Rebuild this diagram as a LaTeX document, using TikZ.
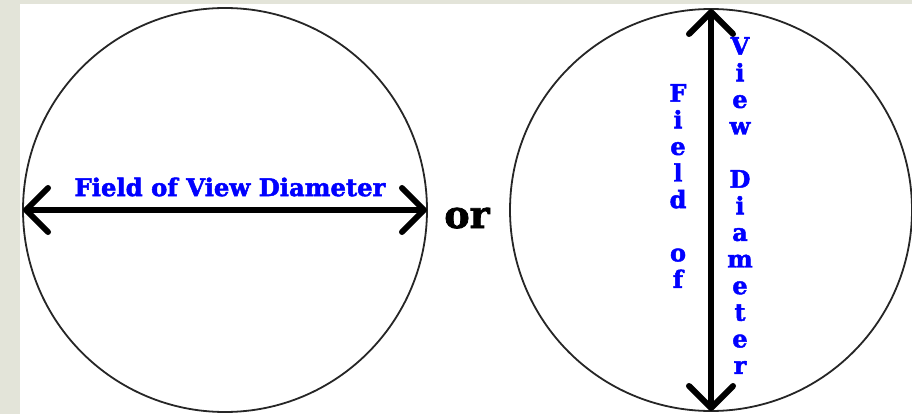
\documentclass[tikz,border=0pt]{standalone}
\usepackage{fontspec}
\setmainfont{DejaVu Serif}
\newfontfamily\heavyserif[FakeBold=2]{DejaVu Serif Bold}
\usetikzlibrary{arrows.meta, positioning}
\definecolor{stripGray}{RGB}{227,228,217}
\definecolor{labelBlue}{RGB}{0,0,255}
\tikzset{
    fovCircle/.style={
        circle, draw=black!85, line width=1.8pt, minimum size=404pt, inner sep=0pt, outer sep=0pt
    },
    fovArrow/.style={
        {Straight Barb[length=22pt, width=44pt, round]}-{Straight Barb[length=22pt, width=44pt, round]}, line width=6pt, draw=black
    },
    fovLabel/.style={
        text=labelBlue, font=\heavyserif\fontsize{24.3}{28}\selectfont, inner sep=0pt
    },
    fovColumn/.style={
        text=labelBlue, font=\heavyserif\fontsize{24}{26.6}\selectfont, align=center, inner sep=0pt, anchor=north
    },
    orLabel/.style={
        text=black, font=\heavyserif\fontsize{38}{42}\selectfont, inner sep=0pt, anchor=base
    }
}
\begin{document}
\begin{tikzpicture}[x=1pt, y=-1pt]
    % ── PAGE AND MARGIN STRIP
    \fill[stripGray] (0, 0) rectangle (912, 414);
    \fill[white] (20, 4) rectangle (912, 414);
    \useasboundingbox (0, 0) rectangle (912, 414);

    % ── LEFT: HORIZONTAL DIAMETER
    \node[fovCircle] (circLeft) at (225, 210) {};
    \draw[fovArrow] (circLeft.west) -- (circLeft.east);
    \node[fovLabel] (labelHoriz) at (230, 187) {Field of View Diameter};

    % ── MIDDLE
    \node[orLabel] (orWord) at (467, 228) {or};

    % ── RIGHT: VERTICAL DIAMETER
    \node[fovCircle, minimum size=402pt] (circRight) at (711, 210) {};
    \draw[fovArrow] (circRight.north) -- (circRight.south);
    \node[fovColumn] (colField) at (678, 84) {F\\i\\e\\l\\d\\\strut\\o\\f};
    \node[fovColumn] (colView) at (740, 37) {V\\i\\e\\w\\\strut\\D\\i\\a\\m\\e\\t\\e\\r};
\end{tikzpicture}
\end{document}
